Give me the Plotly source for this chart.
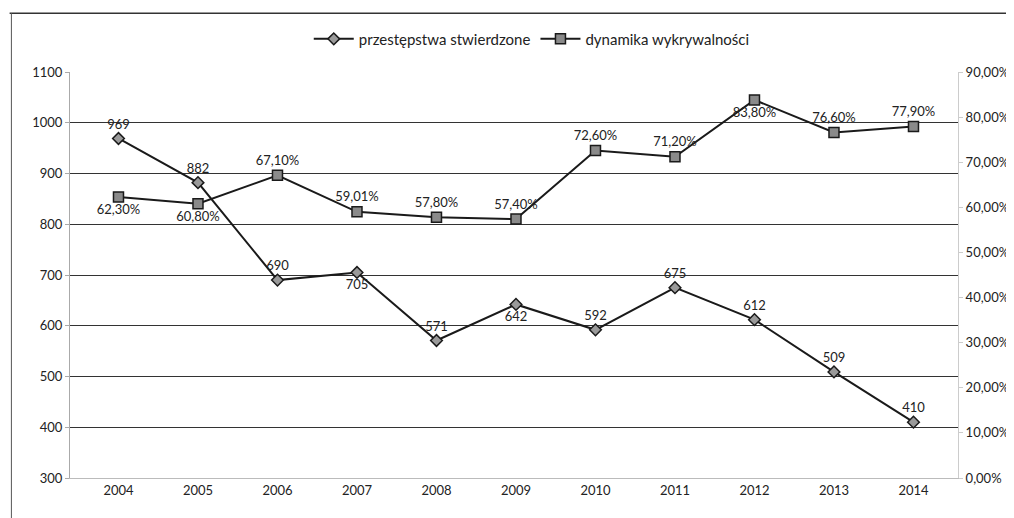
import plotly.graph_objects as go

lata = ["2004", "2005", "2006", "2007", "2008", "2009", "2010", "2011", "2012", "2013", "2014"]
przestepstwa = [969, 882, 690, 705, 571, 642, 592, 675, 612, 509, 410]
wykrywalnosc = [62.30, 60.80, 67.10, 59.01, 57.80, 57.40, 72.60, 71.20, 83.80, 76.60, 77.90]

poz_przest = ["top center", "top center", "top center", "bottom center", "top center", "bottom center",
              "top center", "top center", "top center", "top center", "top center"]
poz_wykr = ["bottom center", "bottom center", "top center", "top center", "top center", "top center",
            "top center", "top center", "bottom center", "top center", "top center"]

FONT = "Lato, Open Sans, sans-serif"

fig = go.Figure()
fig.add_trace(go.Scatter(
    x=lata, y=przestepstwa, name="przestępstwa stwierdzone",
    mode="lines+markers+text",
    line=dict(color="#1a1a1a", width=2),
    marker=dict(symbol="diamond", size=9, color="#9a9a9a", line=dict(color="#1a1a1a", width=1.5)),
    text=[str(v) for v in przestepstwa], textposition=poz_przest,
    textfont=dict(size=13, color="#222"),
))
fig.add_trace(go.Scatter(
    x=lata, y=wykrywalnosc, name="dynamika wykrywalności", yaxis="y2",
    mode="lines+markers+text",
    line=dict(color="#1a1a1a", width=2),
    marker=dict(symbol="square", size=10, color="#8a8a8a", line=dict(color="#1a1a1a", width=1.5)),
    text=[f"{v:.2f}".replace(".", ",") + "%" for v in wykrywalnosc], textposition=poz_wykr,
    textfont=dict(size=13, color="#222"),
))

fig.update_layout(
    width=1006, height=510,
    margin=dict(l=62, r=56, t=64, b=40, autoexpand=False),
    paper_bgcolor="white", plot_bgcolor="white",
    font=dict(family=FONT, size=13, color="#222"),
    separators=", ",
    showlegend=True,
    legend=dict(orientation="h", x=0.52, xanchor="center", y=1.081, yanchor="middle",
                font=dict(size=15), itemwidth=40, bgcolor="rgba(0,0,0,0)"),
    xaxis=dict(type="category", range=[-0.61, 10.56], showgrid=False,
               showline=True, linecolor="#bbbbbb", ticks="", tickfont=dict(size=13)),
    yaxis=dict(range=[300, 1100], dtick=100, tickformat="d", showgrid=True, gridcolor="#333333",
               gridwidth=1, showline=True, linecolor="#aaaaaa", zeroline=False,
               ticks="outside", ticklen=4, tickcolor="#aaaaaa"),
    yaxis2=dict(range=[0, 90], dtick=10, overlaying="y", side="right", tickformat=".2f",
                ticksuffix="%", showgrid=False, showline=True, linecolor="#cccccc",
                zeroline=False, ticks="outside", ticklen=4, tickcolor="#cccccc"),
    shapes=[
        dict(type="line", xref="paper", yref="paper", x0=-0.068, x1=1.1, y0=1.145, y1=1.145,
             line=dict(color="#333", width=1.5)),
        dict(type="line", xref="paper", yref="paper", x0=-0.066, x1=-0.066, y0=-0.2, y1=1.145,
             line=dict(color="#555", width=1)),
    ],
)

fig.write_html("out.html")
